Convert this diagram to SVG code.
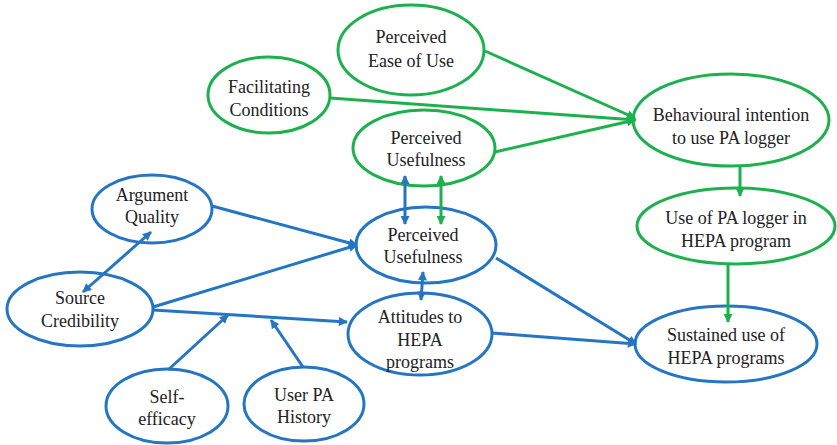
<svg xmlns="http://www.w3.org/2000/svg" width="837" height="445" viewBox="0 0 837 445">
<style>
.b{fill:#fff;stroke:#2475c3;stroke-width:3}
.g{fill:#fff;stroke:#1db14e;stroke-width:3}
.lb{stroke:#2475c3;stroke-width:3;fill:none;marker-end:url(#ab)}
.lg{stroke:#1db14e;stroke-width:3;fill:none;marker-end:url(#ag)}
.db{stroke:#2475c3;stroke-width:3;fill:none;marker-end:url(#ab);marker-start:url(#ab)}
.dg{stroke:#1db14e;stroke-width:3;fill:none;marker-end:url(#ag);marker-start:url(#ag)}
text{font-family:"Liberation Serif","Tinos","DejaVu Serif","Times New Roman",serif;font-size:18px;fill:#222;text-anchor:middle}
</style>
<defs>
<marker id="ab" viewBox="0 0 10 10" refX="9" refY="5" markerWidth="10" markerHeight="9" markerUnits="userSpaceOnUse" orient="auto-start-reverse"><path d="M0,0 L10,5 L0,10 z" fill="#2475c3"/></marker>
<marker id="ag" viewBox="0 0 10 10" refX="9" refY="5" markerWidth="10" markerHeight="9" markerUnits="userSpaceOnUse" orient="auto-start-reverse"><path d="M0,0 L10,5 L0,10 z" fill="#1db14e"/></marker>
</defs>
<g id="peou"><ellipse class="g" cx="411" cy="50" rx="73" ry="45"/><text x="411" y="43">Perceived</text><text x="411" y="67">Ease of Use</text></g>
<g id="fc"><ellipse class="g" cx="269" cy="95" rx="61" ry="38"/><text x="269" y="93">Facilitating</text><text x="269" y="116">Conditions</text></g>
<g id="pu-green"><ellipse class="g" cx="424" cy="148" rx="71" ry="38"/><text x="426" y="144">Perceived</text><text x="426" y="166">Usefulness</text></g>
<g id="bi"><ellipse class="g" cx="731" cy="120" rx="98" ry="46"/><text x="731" y="121">Behavioural intention</text><text x="731" y="144">to use PA logger</text></g>
<g id="use"><ellipse class="g" cx="736" cy="226" rx="99" ry="38"/><text x="736" y="224">Use of PA logger in</text><text x="736" y="247">HEPA program</text></g>
<g id="sustained"><ellipse class="b" cx="726" cy="344" rx="91" ry="38"/><text x="726" y="341">Sustained use of</text><text x="726" y="364">HEPA programs</text></g>
<g id="pu-blue"><ellipse class="b" cx="426" cy="245" rx="70" ry="38"/><text x="423" y="241">Perceived</text><text x="423" y="263">Usefulness</text></g>
<g id="att"><ellipse class="b" cx="420" cy="334" rx="72" ry="41"/><text x="420" y="323">Attitudes to</text><text x="420" y="346">HEPA</text><text x="420" y="368">programs</text></g>
<g id="aq"><ellipse class="b" cx="152" cy="209" rx="60" ry="34"/><text x="152" y="201">Argument</text><text x="152" y="223">Quality</text></g>
<g id="sc"><ellipse class="b" cx="80" cy="309" rx="73" ry="37"/><text x="80" y="304">Source</text><text x="80" y="327">Credibility</text></g>
<g id="se"><ellipse class="b" cx="167" cy="406" rx="61" ry="37"/><text x="167" y="403">Self-</text><text x="167" y="425">efficacy</text></g>
<g id="upa"><ellipse class="b" cx="304" cy="404" rx="60" ry="37"/><text x="304" y="401">User PA</text><text x="304" y="423">History</text></g>
<g id="connectors">
<line class="lg" x1="485" y1="51" x2="635" y2="118"/>
<line class="lg" x1="330" y1="98" x2="636" y2="120"/>
<line class="lg" x1="495" y1="152" x2="635" y2="120"/>
<line class="lg" x1="740" y1="166" x2="740" y2="196"/>
<line class="lg" x1="728" y1="264" x2="728" y2="322"/>
<line class="dg" x1="441" y1="176" x2="441" y2="224"/>
<line class="db" x1="405" y1="176" x2="405" y2="224"/>
<line class="lb" x1="212" y1="206" x2="357" y2="245"/>
<line class="lb" x1="153" y1="307" x2="357" y2="245"/>
<line class="lb" x1="153" y1="310" x2="347" y2="322"/>
<line class="db" x1="151" y1="232" x2="83" y2="292"/>
<line class="lb" x1="168" y1="370" x2="228" y2="315"/>
<line class="lb" x1="303" y1="367" x2="271" y2="320"/>
<line class="db" x1="423" y1="272" x2="421" y2="300"/>
<line class="lb" x1="496" y1="258" x2="636" y2="344"/>
<line class="lb" x1="492" y1="333" x2="636" y2="344"/>
</g>
</svg>
